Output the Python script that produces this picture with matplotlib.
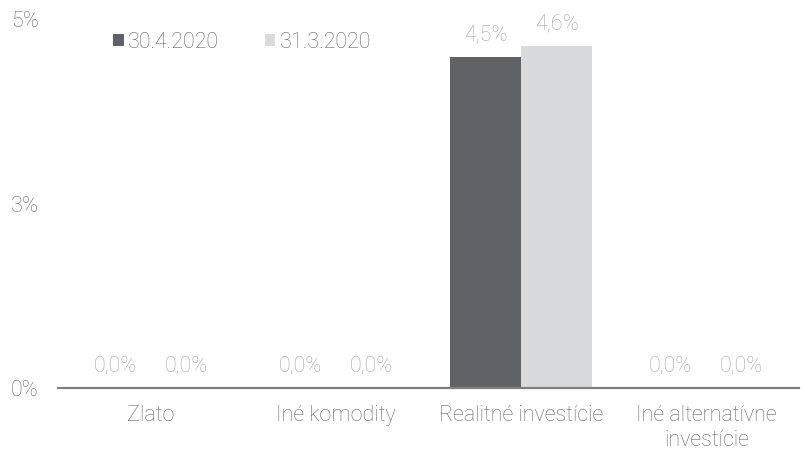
import numpy as np
import matplotlib.pyplot as plt

categories = ["Zlato", "Iné komodity", "Realitné investície", "Iné alternatívne\ninvestície"]
series_names = ["30.4.2020", "31.3.2020"]
apr = [0.0, 0.0, 4.48, 0.0]
mar = [0.0, 0.0, 4.63, 0.0]
ytick_vals = [0, 2.5, 5]
ytick_labels = ["0%", "3%", "5%"]

plt.rcParams['font.family'] = ['Roboto', 'DejaVu Sans']
FS = 15.5
TXT = "#666666"
LBL = "#a2a6a9"
C1, C2 = "#5f6366", "#d9dadb"

fig = plt.figure(figsize=(8.06, 4.5), dpi=100)
ax = fig.add_axes([58/806, 62/450, 741/806, 369/450])

x = np.arange(len(categories))
w = 0.383
b1 = ax.bar(x - w/2, apr, width=w, color=C1, label=series_names[0], zorder=2)
b2 = ax.bar(x + w/2, mar, width=w, color=C2, label=series_names[1], zorder=2)

for bars, vals in ((b1, apr), (b2, mar)):
    for r, v in zip(bars, vals):
        ax.annotate(f"{v:.1f}%".replace(".", ","), (r.get_x() + r.get_width()/2, v),
                    xytext=(0, 12), textcoords="offset points", ha="center", va="baseline",
                    fontsize=FS, color=LBL, fontweight="light")

ax.set_xlim(-0.5, len(categories) - 0.5)
ax.set_ylim(0, 5)
ax.set_yticks(ytick_vals)
ax.set_yticklabels(ytick_labels, fontsize=FS, color=TXT, fontweight="light")
ax.set_xticks(x)
ax.set_xticklabels(categories, fontsize=FS, color=TXT, fontweight="light", linespacing=1.25)
ax.tick_params(axis="both", length=0)
ax.tick_params(axis="x", pad=12)
ax.tick_params(axis="y", pad=14)
for s in ("top", "right", "left"):
    ax.spines[s].set_visible(False)
ax.spines["bottom"].set_color("#7f7f7f")
ax.spines["bottom"].set_linewidth(1.6)
ax.spines["bottom"].set_zorder(3)

leg = fig.legend(loc="center left", bbox_to_anchor=(96/806, 1 - 42/450), ncol=2,
                 frameon=False, fontsize=FS, handlelength=0.5, handleheight=0.5,
                 handletextpad=0.2, columnspacing=2.1, borderpad=0.3)
for t in leg.get_texts():
    t.set_color(TXT)
    t.set_fontweight("light")

fig.savefig("out.png", dpi=100)
